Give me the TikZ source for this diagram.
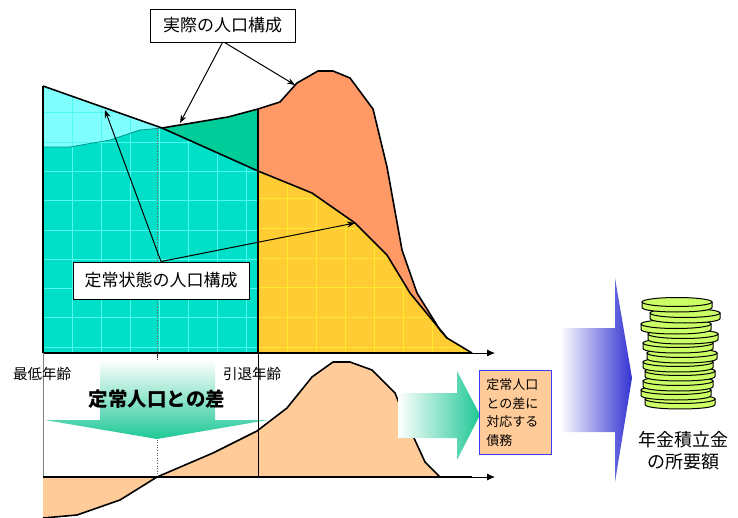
\documentclass[tikz,border=0pt]{standalone}
\usepackage{fontspec}
\setmainfont{Noto Sans CJK JP}
\usetikzlibrary{arrows.meta}

\definecolor{tealfill}{RGB}{0,224,200}
\definecolor{cyanfill}{RGB}{128,255,255}
\definecolor{cyangrid}{RGB}{80,250,240}
\definecolor{greenfill}{RGB}{0,204,153}
\definecolor{orangefill}{RGB}{255,153,102}
\definecolor{yellowfill}{RGB}{255,204,51}
\definecolor{yellowgrid}{RGB}{255,232,50}
\definecolor{peach}{RGB}{255,204,153}
\definecolor{arrowgreen}{RGB}{30,200,150}
\definecolor{arrowblue}{RGB}{51,51,210}
\definecolor{coin}{RGB}{204,255,102}
\definecolor{boxblue}{RGB}{60,60,255}
\definecolor{edgeteal}{RGB}{0,150,140}

\tikzset{
  curve/.style={line width=1.6pt, line join=round},
  gridline/.style={line width=0.5pt},
  label box/.style={draw=black, line width=0.9pt, fill=white, inner sep=0pt,
    font=\fontsize{17}{20}\selectfont},
  pointer/.style={line width=1pt, -{Stealth[length=8pt,width=6pt]}},
  axis label/.style={font=\fontsize{14.5}{16}\selectfont, inner sep=0pt},
  debt box/.style={draw=boxblue, line width=0.9pt, fill=peach, align=left,
    text width=58pt, inner xsep=7pt, inner ysep=0pt, minimum height=84pt,
    font=\fontsize{13}{18.7}\selectfont},
  coin edge/.style={fill=coin, draw=black, line width=1pt},
}

\begin{document}
\begin{tikzpicture}[x=1pt, y=-1pt]
\useasboundingbox (0,0) rectangle (738,518);
\clip (0,0) rectangle (738,518);

% ---------- upper chart: population by age ----------
% steady-state young region and its lighter top band
\fill[tealfill] (43,353) -- (43,147) -- (70,147) -- (110,140) -- (140,130) -- (162,128)
  -- (258,171) -- (258,353) -- cycle;
\fill[cyanfill] (43,86) -- (162,128) -- (140,130) -- (110,140) -- (70,147) -- (43,147) -- cycle;
\begin{scope}
  \clip (43,353) -- (43,86) -- (162,128) -- (258,171) -- (258,353) -- cycle;
  \foreach \i in {1,...,8} \draw[cyangrid, gridline] ({43+29*\i},80) -- ({43+29*\i},353);
  \foreach \i in {0,...,9} \draw[cyangrid, gridline] (43,{347-29.3*\i}) -- (258,{347-29.3*\i});
\end{scope}
\draw[edgeteal, line width=0.8pt] (43,147) -- (70,147) -- (110,140) -- (140,130) -- (162,128);

% surplus of actual over steady-state before retirement
\fill[greenfill] (162,128) -- (228,117) -- (258,109) -- (258,171) -- cycle;

% retired: actual (orange) above steady-state (yellow)
\fill[orangefill] (258,109) -- (280,102) -- (297,83) -- (318,71) -- (333,71) -- (350,78)
  -- (373,109) -- (387,167) -- (402,250) -- (417,293) -- (440,330) -- (447,338)
  -- (410,293) -- (387,255) -- (355,223) -- (312,193) -- (258,171) -- cycle;
\fill[yellowfill] (258,171) -- (312,193) -- (355,223) -- (387,255) -- (410,293)
  -- (447,338) -- (472,353) -- (258,353) -- cycle;
\begin{scope}
  \clip (258,171) -- (312,193) -- (355,223) -- (387,255) -- (410,293)
    -- (447,338) -- (472,353) -- (258,353) -- cycle;
  \foreach \i in {1,...,7} \draw[yellowgrid, gridline] ({258+29*\i},160) -- ({258+29*\i},353);
  \foreach \i in {0,...,6} \draw[yellowgrid, gridline] (258,{347-29.7*\i}) -- (480,{347-29.7*\i});
\end{scope}

% steady-state and actual population curves
\draw[curve] (43,86) -- (162,128) -- (258,171) -- (312,193) -- (355,223) -- (387,255)
  -- (410,293) -- (447,338) -- (472,353);
\draw[curve] (162,128) -- (228,117) -- (258,109) -- (280,102) -- (297,83) -- (318,71)
  -- (333,71) -- (350,78) -- (373,109) -- (387,167) -- (402,250) -- (417,293)
  -- (440,330) -- (447,338);
\draw[curve] (258,109) -- (258,353);
\draw[curve] (43,86) -- (43,353);

% age axis of the upper chart
\draw[curve] (43,353) -- (472,353);
\draw[line width=0.8pt, -{Latex[length=8pt,width=7pt]}] (472,353) -- (495,353);
\draw[line width=0.8pt] (157,353) -- (157,358) (258,353) -- (258,358);

% guide lines through both charts
\draw[gray, line width=0.6pt] (43,353) -- (43,518);
\draw[gray!70!black, line width=0.6pt, dotted] (157,125) -- (157,477);

\node[axis label] (minage) at (42,374) {最低年齢};
\node[axis label] (retage) at (252,374) {引退年齢};

% ---------- lower chart: difference from the steady state ----------
\shade[top color=white, bottom color=arrowgreen]
  (100,360) -- (215,360) -- (215,420) -- (268,420) -- (157,439) -- (45,420)
  -- (100,420) -- cycle;
\node[font=\fontsize{19.5}{22}\selectfont\bfseries, inner sep=0pt] (difflabel)
  at (157,399) {定常人口との差};

\fill[peach] (43,477) -- (43,518) -- (77,515) -- (120,500) -- (157,477) -- (213,453)
  -- (257,431) -- (287,408) -- (312,377) -- (333,362) -- (350,362) -- (372,370)
  -- (395,393) -- (408,425) -- (425,462) -- (440,477) -- cycle;
\draw[curve] (43,518) -- (77,515) -- (120,500) -- (157,477) -- (213,453)
  -- (257,431) -- (287,408) -- (312,377) -- (333,362) -- (350,362) -- (372,370)
  -- (395,393) -- (408,425) -- (425,462) -- (440,477);
\draw[line width=0.8pt] (258,353) -- (258,477);
\draw[line width=1.4pt] (43,477) -- (472,477);
\draw[line width=0.8pt, -{Latex[length=8pt,width=7pt]}] (472,477) -- (495,477);

% ---------- debt and required reserve ----------
\shade[left color=white, right color=arrowgreen]
  (398,393) -- (457,393) -- (457,371) -- (480,415) -- (457,460) -- (457,438)
  -- (398,438) -- cycle;
\node[debt box, anchor=north west] (debt) at (479,370) {定常人口\\との差に\\対応する\\債務};

\shade[left color=white, right color=arrowblue]
  (560,328) -- (615,328) -- (615,278) -- (632,378) -- (615,482) -- (615,432)
  -- (560,432) -- cycle;

% stack of coins, drawn from the bottom up
\foreach \cx/\cy in {680/399, 676/390, 678/381, 680/371, 678/362, 682/353,
                     678/343, 683/334, 676/324, 685/313, 677/302} {
  \filldraw[coin edge] ({\cx-35},\cy) -- ({\cx-35},{\cy+5.5})
    .. controls ({\cx-35},{\cy+11.5}) and ({\cx+35},{\cy+11.5}) .. ({\cx+35},{\cy+5.5})
    -- ({\cx+35},\cy) -- cycle;
  \filldraw[coin edge] (\cx,\cy) ellipse[x radius=35, y radius=4.5];
}
\node[font=\fontsize{18}{22}\selectfont, align=center, inner sep=0pt] (reserve)
  at (683,451) {年金積立金\\の所要額};

% ---------- callouts ----------
\node[label box, minimum width=145pt, minimum height=33pt] (actual) at (222.5,25.5)
  {実際の人口構成};
\coordinate (actualA) at (180,123);
\coordinate (actualB) at (295,85);
\draw[pointer] (actual.south) -- (actualA);
\draw[pointer] ([xshift=2pt]actual.south) -- (actualB);

\node[label box, minimum width=176pt, minimum height=37pt] (steady) at (161,280.5)
  {定常状態の人口構成};
\coordinate (steadyA) at (105,110);
\coordinate (steadyB) at (355,223);
\draw[pointer] (steady.north) -- (steadyA);
\draw[pointer] (steady.north) -- (steadyB);
\end{tikzpicture}
\end{document}
